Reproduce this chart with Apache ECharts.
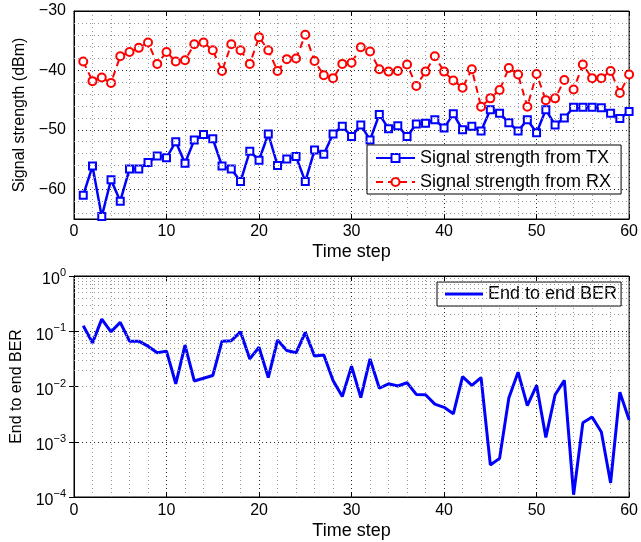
<!DOCTYPE html>
<html>
<head>
<meta charset="utf-8">
<script src="https://cdn.jsdelivr.net/npm/echarts@6/dist/echarts.min.js"></script>
<style>
html,body{margin:0;padding:0;background:#fff;}
#chart{width:641px;height:542px;}
</style>
</head>
<body>
<div id="chart"></div>
<script>
const timeSteps = [1,2,3,4,5,6,7,8,9,10,11,12,13,14,15,16,17,18,19,20,21,22,23,24,25,26,27,28,29,30,31,32,33,34,35,36,37,38,39,40,41,42,43,44,45,46,47,48,49,50,51,52,53,54,55,56,57,58,59,60];
const txStrength = [-61.0,-56.1,-64.6,-58.4,-62.0,-56.6,-56.6,-55.5,-54.4,-54.7,-52.0,-55.6,-51.7,-50.8,-51.5,-56.1,-56.6,-58.7,-53.6,-55.1,-50.7,-56.0,-54.9,-54.5,-58.7,-53.4,-54.1,-50.7,-49.4,-51.1,-49.2,-51.7,-47.4,-49.8,-49.3,-51.1,-49.0,-48.9,-48.3,-49.7,-47.3,-50.0,-49.4,-50.2,-46.6,-47.2,-48.8,-50.2,-48.3,-50.5,-46.6,-49.2,-48.0,-46.2,-46.2,-46.2,-46.3,-47.2,-48.1,-46.9];
const rxStrength = [-38.5,-41.8,-41.2,-42.1,-37.6,-36.9,-36.2,-35.3,-38.9,-36.9,-38.5,-38.3,-35.6,-35.3,-36.6,-40.1,-35.6,-36.6,-38.9,-34.4,-36.6,-40.1,-38.1,-38.0,-34.0,-38.4,-40.8,-41.3,-38.9,-38.7,-36.1,-36.8,-39.8,-40.2,-40.1,-39.0,-42.6,-40.2,-37.6,-40.2,-41.7,-42.9,-39.8,-46.1,-44.7,-43.3,-39.6,-40.7,-46.1,-40.6,-45.0,-44.7,-41.6,-43.2,-39.0,-41.3,-41.3,-40.1,-43.8,-40.7];
const berValues = [0.126,0.0617,0.166,0.0977,0.145,0.0661,0.0661,0.0537,0.0407,0.0437,0.0112,0.0562,0.0126,0.0141,0.0158,0.0661,0.0676,0.0977,0.0316,0.0513,0.0145,0.0692,0.0447,0.0407,0.0955,0.0355,0.0372,0.0129,0.0066,0.0234,0.0063,0.0316,0.0093,0.0112,0.0102,0.0117,0.0072,0.0071,0.0048,0.0042,0.0032,0.0151,0.0105,0.0145,0.00038,0.0005,0.0062,0.0182,0.0045,0.0105,0.0012,0.0071,0.0129,0.00011,0.0022,0.0028,0.0015,0.00018,0.0079,0.0025];
const strengthMajorTicks = [-60,-50,-40];
const strengthMinorTicks = [-64,-62,-58,-56,-54,-52,-48,-46,-44,-42,-38,-36,-34,-32];

const FONT = '"Liberation Sans", Arial, Helvetica, sans-serif';
const berMinor = [];
for (let e = -4; e <= -1; e++) for (let k = 2; k <= 9; k++) berMinor.push(k * Math.pow(10, e));

const majorLine = {type: [1, 3], color: '#000', width: 1, opacity: 0.85};
const minorLine = {type: [1, 3], color: '#9a9a9a', width: 1};

function pairs(ys){ return timeSteps.map((t,i)=>[t, ys[i]]); }

const chart = echarts.init(document.getElementById('chart'), null, {renderer: 'canvas'});
const option = {
  animation: false,
  backgroundColor: '#fff',
  textStyle: {fontFamily: FONT},
  grid: [
    {left: 74, right: 10, top: 11, height: 208, show: true, borderColor: '#000', borderWidth: 1, backgroundColor: 'transparent'},
    {left: 74, right: 10, top: 276, height: 221, show: true, borderColor: '#000', borderWidth: 1, backgroundColor: 'transparent'}
  ],
  legend: [
    {
      data: ['Signal strength from TX', 'Signal strength from RX'],
      orient: 'vertical', left: 367, top: 145,
      itemWidth: 39, itemHeight: 10, itemGap: 6,
      padding: [4, 10, 3, 8],
      backgroundColor: '#fff', borderColor: '#000', borderWidth: 1, borderRadius: 0,
      textStyle: {fontSize: 18, color: '#000', fontFamily: FONT}
    },
    {
      data: [{name: 'End to end BER', icon: 'rect'}],
      orient: 'vertical', left: 437, top: 282,
      itemWidth: 38, itemHeight: 3,
      padding: [3, 4, 3, 8],
      backgroundColor: '#fff', borderColor: '#000', borderWidth: 1, borderRadius: 0,
      textStyle: {fontSize: 18, color: '#000', fontFamily: FONT}
    }
  ],
  xAxis: [
    {
      gridIndex: 0, type: 'value', min: 0, max: 60, interval: 10,
      name: 'Time step', nameLocation: 'middle', nameGap: 24,
      nameTextStyle: {fontSize: 18, color: '#000', fontFamily: FONT},
      axisLine: {show: true, lineStyle: {color: '#000'}},
      axisTick: {show: true, inside: true, length: 5, lineStyle: {color: '#000'}},
      axisLabel: {fontSize: 16, color: '#000', margin: 5, fontFamily: FONT},
      splitLine: {show: true, lineStyle: majorLine},
      minorTick: {show: false, splitNumber: 5},
      minorSplitLine: {show: true, lineStyle: minorLine}
    },
    {
      gridIndex: 0, type: 'value', min: 0, max: 60, interval: 10, position: 'top',
      axisLine: {show: true, lineStyle: {color: '#000'}},
      axisTick: {show: true, inside: true, length: 5, lineStyle: {color: '#000'}},
      axisLabel: {show: false}, splitLine: {show: false}
    },
    {
      gridIndex: 1, type: 'value', min: 0, max: 60, interval: 10,
      name: 'Time step', nameLocation: 'middle', nameGap: 25,
      nameTextStyle: {fontSize: 18, color: '#000', fontFamily: FONT},
      axisLine: {show: true, lineStyle: {color: '#000'}},
      axisTick: {show: true, inside: true, length: 5, lineStyle: {color: '#000'}},
      axisLabel: {fontSize: 16, color: '#000', margin: 6, fontFamily: FONT},
      splitLine: {show: true, lineStyle: majorLine},
      minorTick: {show: false, splitNumber: 5},
      minorSplitLine: {show: true, lineStyle: minorLine}
    },
    {
      gridIndex: 1, type: 'value', min: 0, max: 60, interval: 10, position: 'top',
      axisLine: {show: true, lineStyle: {color: '#000'}},
      axisTick: {show: true, inside: true, length: 5, lineStyle: {color: '#000'}},
      axisLabel: {show: false}, splitLine: {show: false}
    }
  ],
  yAxis: [
    {
      gridIndex: 0, type: 'value', min: -65, max: -30, interval: 5,
      name: 'Signal strength (dBm)', nameLocation: 'middle', nameGap: 43,
      nameTextStyle: {fontSize: 16, color: '#000', fontFamily: FONT},
      axisLine: {show: true, lineStyle: {color: '#000'}},
      axisTick: {show: false},
      axisLabel: {fontSize: 16, color: '#000', margin: 8, fontFamily: FONT,
        formatter: v => (v % 10 === 0 ? (v < 0 ? '\u2212' + Math.abs(v) : String(v)) : '')},
      splitLine: {show: false}
    },
    {
      gridIndex: 1, type: 'log', logBase: 10, min: 0.0001, max: 1, splitNumber: 4,
      name: 'End to end BER', nameLocation: 'middle', nameGap: 43,
      nameTextStyle: {fontSize: 16, color: '#000', fontFamily: FONT},
      axisLine: {show: true, lineStyle: {color: '#000'}},
      axisTick: {show: true, inside: true, length: 5, lineStyle: {color: '#000'}},
      axisLabel: {
        margin: 8, color: '#000', fontFamily: FONT,
        formatter: v => {
          const e = Math.round(Math.log10(v));
          return '{b|10}{e|' + (e < 0 ? '\u2212' + Math.abs(e) : e) + '}';
        },
        rich: {
          b: {fontSize: 16, color: '#000', fontFamily: FONT, padding: [8, 0, 0, 0]},
          e: {fontSize: 11, color: '#000', fontFamily: FONT, padding: [0, 0, 6, 0]}
        }
      },
      splitLine: {show: true, lineStyle: majorLine}
    },
    {
      gridIndex: 1, type: 'log', logBase: 10, min: 0.0001, max: 1, splitNumber: 4, position: 'right',
      axisLine: {show: true, lineStyle: {color: '#000'}},
      axisTick: {show: true, inside: true, length: 5, lineStyle: {color: '#000'}},
      axisLabel: {show: false}, splitLine: {show: false}
    }
  ],
  series: [
    {
      name: 'gridTop', type: 'line', xAxisIndex: 0, yAxisIndex: 0, data: [], z: 1, silent: true,
      markLine: {
        silent: true, symbol: 'none', animation: false, label: {show: false},
        data: strengthMinorTicks.map(v => ({yAxis: v, lineStyle: minorLine}))
          .concat(strengthMajorTicks.map(v => ({yAxis: v, lineStyle: majorLine})))
      }
    },
    {
      name: 'gridBottom', type: 'line', xAxisIndex: 2, yAxisIndex: 1, data: [], z: 1, silent: true,
      markLine: {
        silent: true, symbol: 'none', animation: false, label: {show: false},
        data: berMinor.map(v => ({yAxis: v, lineStyle: minorLine}))
      }
    },
    {
      name: 'Signal strength from TX', type: 'line', xAxisIndex: 0, yAxisIndex: 0, z: 3,
      data: pairs(txStrength),
      symbol: 'emptyRect', symbolSize: 7, showAllSymbol: true,
      lineStyle: {color: '#0000ff', width: 2.5},
      itemStyle: {color: '#0000ff', borderColor: '#0000ff', borderWidth: 2}
    },
    {
      name: 'Signal strength from RX', type: 'line', xAxisIndex: 0, yAxisIndex: 0, z: 3,
      data: pairs(rxStrength),
      symbol: 'emptyCircle', symbolSize: 8, showAllSymbol: true,
      lineStyle: {color: '#ff0000', width: 2, type: [7, 5]},
      itemStyle: {color: '#ff0000', borderColor: '#ff0000', borderWidth: 2}
    },
    {
      name: 'End to end BER', type: 'line', xAxisIndex: 2, yAxisIndex: 1, z: 3,
      data: pairs(berValues),
      symbol: 'none',
      lineStyle: {color: '#0000ff', width: 3},
      itemStyle: {color: '#0000ff'}
    }
  ]
};
chart.setOption(option);
</script>
</body>
</html>
